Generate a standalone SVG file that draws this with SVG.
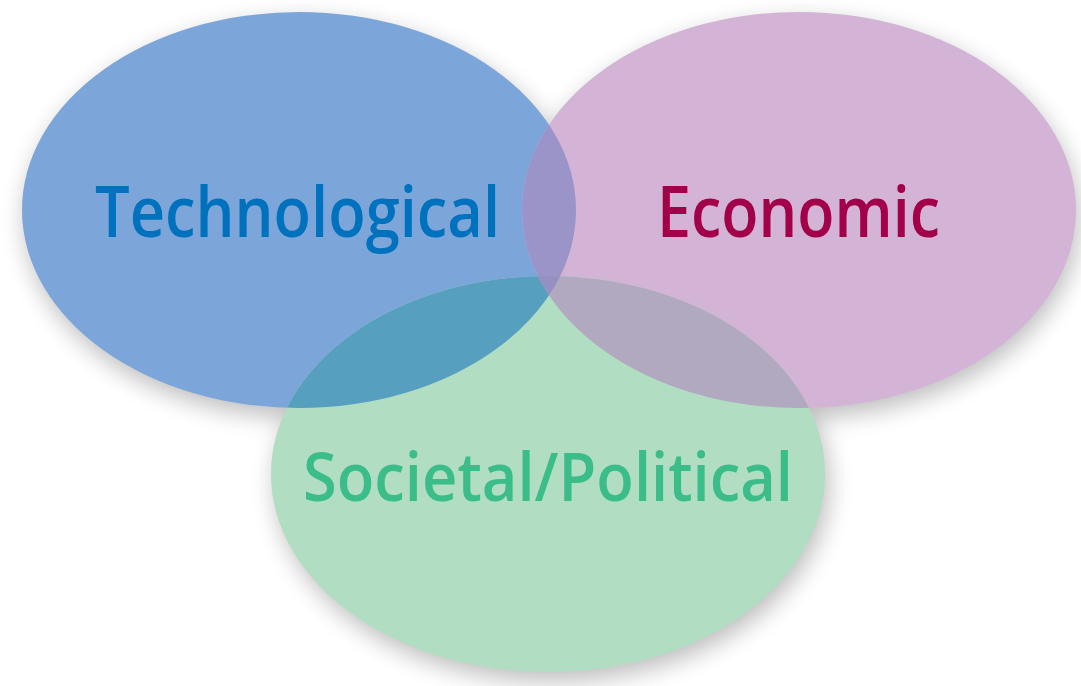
<svg xmlns="http://www.w3.org/2000/svg" width="1081" height="686" viewBox="0 0 1081 686">
  <style>
    .lbl { font-family: "Open Sans", "Liberation Sans", sans-serif; font-weight: 600; }
  </style>
  <defs>
    <filter id="shadow" x="-20%" y="-20%" width="140%" height="140%">
      <feGaussianBlur stdDeviation="12"/>
    </filter>
    <clipPath id="clipBlue"><ellipse cx="299" cy="210" rx="277" ry="198"/></clipPath>
    <clipPath id="clipPink"><ellipse cx="799" cy="210" rx="277" ry="198"/></clipPath>
    <clipPath id="clipGreen"><ellipse cx="548" cy="474" rx="277" ry="198"/></clipPath>
  </defs>
  <rect width="1081" height="686" fill="#ffffff"/>

  <g id="shadows" fill="#000000" opacity="0.26" filter="url(#shadow)">
    <ellipse cx="302" cy="219" rx="277" ry="198"/>
    <ellipse cx="802" cy="219" rx="277" ry="198"/>
    <ellipse cx="552" cy="483" rx="277" ry="198"/>
  </g>

  <g id="technological">
    <ellipse cx="299" cy="210" rx="277" ry="198" fill="#7ca6d9"/>
  </g>
  <g id="economic">
    <ellipse cx="799" cy="210" rx="277" ry="198" fill="#d3b4d7"/>
  </g>
  <g id="societal">
    <ellipse cx="548" cy="474" rx="277" ry="198" fill="#b1ddc3"/>
  </g>

  <g id="overlaps">
    <g clip-path="url(#clipBlue)">
      <ellipse cx="799" cy="210" rx="277" ry="198" fill="#9a94c8"/>
      <ellipse cx="548" cy="474" rx="277" ry="198" fill="#579fbf"/>
    </g>
    <g clip-path="url(#clipPink)">
      <ellipse cx="548" cy="474" rx="277" ry="198" fill="#b1a9bf"/>
      <g clip-path="url(#clipBlue)">
        <ellipse cx="548" cy="474" rx="277" ry="198" fill="#9590c2"/>
      </g>
    </g>
  </g>

  <g id="labels">
    <text class="lbl" x="95" y="237" font-size="70" fill="#0071bc" textLength="405" lengthAdjust="spacingAndGlyphs">Technological</text>
    <text class="lbl" x="657" y="237" font-size="70" fill="#a3004a" textLength="283" lengthAdjust="spacingAndGlyphs">Economic</text>
    <text class="lbl" x="303" y="501" font-size="67" fill="#3bbd8a" textLength="490" lengthAdjust="spacingAndGlyphs">Societal/Political</text>
  </g>
</svg>
